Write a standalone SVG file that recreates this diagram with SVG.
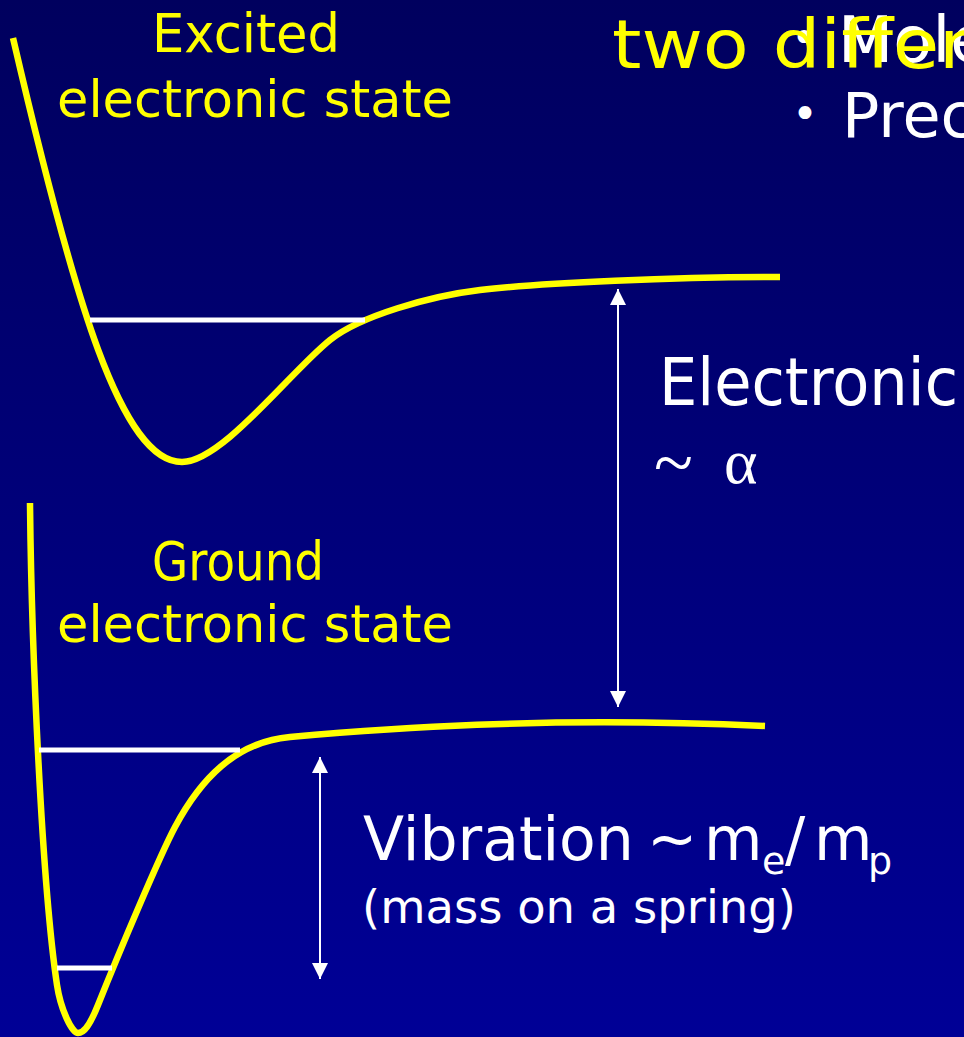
<svg xmlns="http://www.w3.org/2000/svg" width="964" height="1037" viewBox="0 0 964 1037">
  <defs>
    <linearGradient id="bg" x1="0" y1="0" x2="0" y2="1">
      <stop offset="0" stop-color="#00005E"/>
      <stop offset="1" stop-color="#000096"/>
    </linearGradient>
    <marker id="ah" viewBox="0 0 16 16" refX="16" refY="8" markerWidth="16" markerHeight="16" markerUnits="userSpaceOnUse" orient="auto-start-reverse">
      <path d="M0,0 L16,8 L0,16 z" fill="#ffffff"/>
    </marker>
    <style>
      .curve { fill: none; stroke: #FFFF00; stroke-width: 6.5; stroke-linecap: butt; stroke-linejoin: round; }
      .level { stroke: #ffffff; stroke-width: 5; fill: none; }
      .arrow { stroke: #ffffff; stroke-width: 2; fill: none; marker-start: url(#ah); marker-end: url(#ah); }
      .ylab { fill: #FFFF00; font-family: "DejaVu Sans", sans-serif; }
      .wlab { fill: #ffffff; font-family: "DejaVu Sans", sans-serif; }
      .math { fill: #ffffff; font-family: "Liberation Serif", "DejaVu Serif", serif; }
    </style>
  </defs>

  <rect x="0" y="0" width="964" height="1037" fill="url(#bg)"/>

  <g id="title">
    <text class="wlab" y="53" font-size="44"><tspan x="791">•</tspan></text>
    <text class="wlab" x="838" y="62" font-size="64">Mole</text>
    <text class="ylab" x="612" y="68" font-size="68" textLength="358" lengthAdjust="spacingAndGlyphs">two differ</text>
    <text class="wlab" y="129" font-size="44"><tspan x="792">•</tspan></text>
    <text class="wlab" x="842" y="137" font-size="62">Prec</text>
  </g>

  <g id="excited-state">
    <path class="curve" d="M13,38 C75,305 122,462 182,462 C222,462 290,372 330,340 C360,316 430,296 480,290 C540,282.8 680,277 780,277"/>
    <line class="level" x1="90" y1="320" x2="365" y2="320"/>
    <text class="ylab" x="152" y="52" font-size="54" textLength="188" lengthAdjust="spacingAndGlyphs">Excited</text>
    <text class="ylab" x="57" y="117" font-size="52" textLength="396" lengthAdjust="spacingAndGlyphs">electronic state</text>
  </g>

  <g id="ground-state">
    <path class="curve" d="M30,503 C31.5,650 42,885 57,985 C60.75,1010 72,1033 78,1033 C84,1033 90,1025 98,1005 C118,955 160,855 175,827 C200,780 235,742 290,737 C380,729 540,716 765,726"/>
    <line class="level" x1="39" y1="750" x2="240" y2="750"/>
    <line class="level" x1="57" y1="968" x2="112" y2="968"/>
    <text class="ylab" x="152" y="580" font-size="54" textLength="172" lengthAdjust="spacingAndGlyphs">Ground</text>
    <text class="ylab" x="57" y="642" font-size="52" textLength="396" lengthAdjust="spacingAndGlyphs">electronic state</text>
  </g>

  <g id="connectors">
    <line class="arrow" x1="618" y1="289" x2="618" y2="707"/>
    <line class="arrow" x1="320" y1="757" x2="320" y2="979"/>
  </g>

  <g id="electronic-label">
    <text class="wlab" x="659" y="405" font-size="66" textLength="299" lengthAdjust="spacingAndGlyphs">Electronic</text>
    <text class="math" font-size="64"><tspan x="654" y="487" font-size="72">~</tspan><tspan x="724" y="483">α</tspan></text>
  </g>

  <g id="vibration-label">
    <text class="wlab" y="860" font-size="60"><tspan x="363">Vibration</tspan><tspan x="647">~</tspan><tspan x="704">m</tspan><tspan x="762" y="874" font-size="38">e</tspan><tspan x="785" y="860">/</tspan><tspan x="814">m</tspan><tspan x="868" y="874" font-size="38">p</tspan></text>
    <text class="wlab" x="362" y="923" font-size="47" textLength="434" lengthAdjust="spacingAndGlyphs">(mass on a spring)</text>
  </g>
</svg>
